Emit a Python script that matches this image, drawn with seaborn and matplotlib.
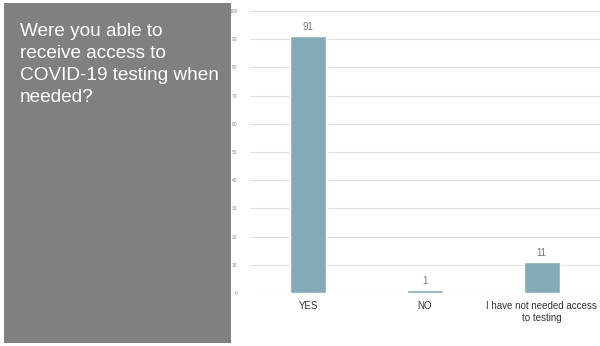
import matplotlib
matplotlib.use("Agg")
import matplotlib.pyplot as plt
import matplotlib.patches as mpatches
import pandas as pd
import seaborn as sns

# Survey answers
answers = ["YES", "NO", "I have not needed access\nto testing"]
counts = [91, 1, 11]
y_ticks = [0, 10, 20, 30, 40, 50, 60, 70, 80, 90, 100]
question = "Were you able to\nreceive access to\nCOVID-19 testing when\nneeded?"

df = pd.DataFrame({"answer": answers, "count": counts})

sns.set_theme(style="white")
plt.rcParams["font.family"] = ["Liberation Sans", "DejaVu Sans"]

fig = plt.figure(figsize=(6.0, 3.46), dpi=100)

# grey question panel on the left
panel = mpatches.Rectangle((4 / 600, 3 / 346), 227 / 600, 340 / 346,
                           transform=fig.transFigure, facecolor="#808080",
                           edgecolor="none", zorder=0)
fig.patches.append(panel)
fig.text(20 / 600, 1 - 23 / 346, question, color="white", fontsize=13.7,
         va="top", ha="left", linespacing=1.38)

ax = fig.add_axes([250 / 600, 53 / 346, 350 / 600, 282 / 346])
sns.barplot(data=df, x="answer", y="count", color="#84abb5", width=0.31,
            saturation=1, ax=ax, zorder=3)

ax.set_ylim(0, 100)
ax.set_yticks(y_ticks)
ax.set_xlim(-0.5, 2.5)
ax.grid(axis="y", color="#e0e0e0", linewidth=0.8, zorder=0)
ax.tick_params(axis="y", labelsize=3.5, labelcolor="#888888", length=0, pad=9)
ax.tick_params(axis="x", labelsize=7, labelcolor="#333333", length=0, pad=6)
ax.set_xlabel("")
ax.set_ylabel("")
for s in ax.spines.values():
    s.set_visible(False)

for i, v in enumerate(counts):
    ax.text(i, v + 1.5, str(v), ha="center", va="bottom", fontsize=7, color="#777777")

fig.savefig("out.png", dpi=100)
